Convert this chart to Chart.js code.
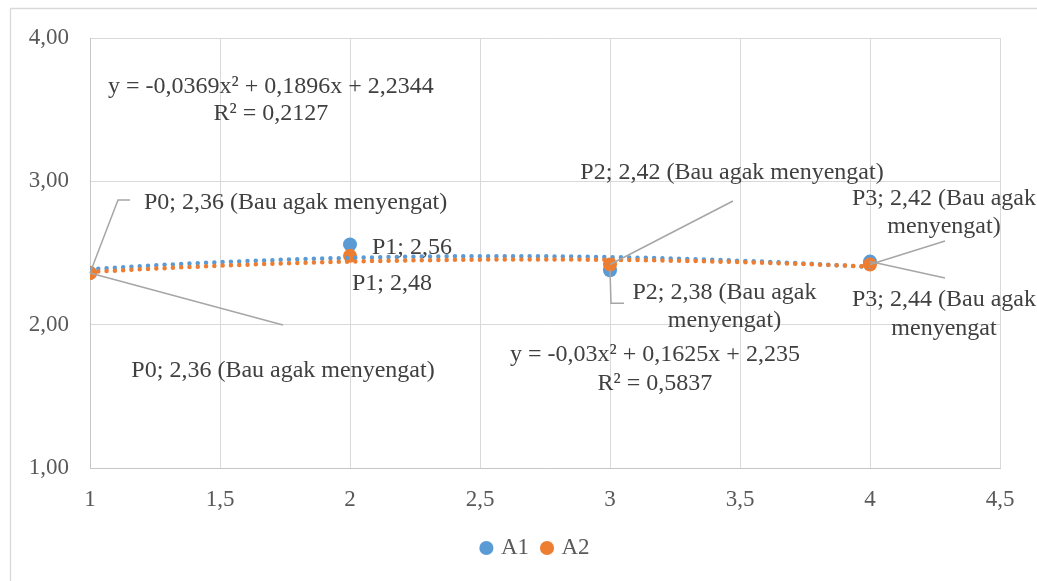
<!DOCTYPE html>
<html><head><meta charset="utf-8">
<script src="https://cdn.jsdelivr.net/npm/chart.js@4"></script>
<style>html,body{margin:0;padding:0;background:#fff}#wrap{width:1037px;height:581px;position:relative}canvas{display:block}</style>
</head><body><div id="wrap"><canvas id="c" width="1037" height="581"></canvas></div>
<script>
// ---- data ----
const xValues = [1, 2, 3, 4];
const pointNames = ['P0', 'P1', 'P2', 'P3'];
const seriesA1 = [2.36, 2.56, 2.38, 2.44];
const seriesA2 = [2.36, 2.48, 2.42, 2.42];
const trendCoefA1 = [-0.0369, 0.1896, 2.2344]; // quadratic trendline a, b, c (as printed)
const trendCoefA2 = [-0.03, 0.1625, 2.235];
const r2A1 = 0.2127;
const r2A2 = 0.5837;
const xTickLabels = ['1', '1,5', '2', '2,5', '3', '3,5', '4', '4,5'];
const yTickLabels = ['1,00', '2,00', '3,00', '4,00'];

const BLUE = '#5B9BD5', ORANGE = '#ED7D31', TXT = '#404040', TICK = '#595959';
const FONT = "'Liberation Serif', 'Times New Roman', serif";

const fmt = v => String(v).replace('.', ',');
function trendPoints(c) {
  const pts = [];
  for (let k = 0; k <= 60; k++) {
    const x = 1 + k * 0.05;
    pts.push({x, y: c[0] * x * x + c[1] * x + c[2]});
  }
  return pts;
}
function eqText(c) {
  const s = v => (v < 0 ? '- ' : '+ ') + fmt(Math.abs(v));
  return 'y = ' + fmt(c[0]) + 'x² ' + s(c[1]) + 'x ' + s(c[2]);
}

// ---- label annotations (offsets relative to the point, in px) ----
const pointLabels = [
  {ds: 0, i: 0, align: 'left', dx: 54, dy: [-72], lines: ['{L} (Bau agak menyengat)'], leader: [[28, -73], [40, -73]]},
  {ds: 0, i: 1, align: 'left', dx: 22, dy: [1.6], lines: ['{L}'], leader: null},
  {ds: 0, i: 2, align: 'center', dx: 114.5, dy: [20.8, 48.8], lines: ['{L} (Bau agak', 'menyengat)'], leader: [[1, 33], [14, 33]]},
  {ds: 0, i: 3, align: 'center', dx: 74, dy: [36.4, 65.4], lines: ['{L} (Bau agak', 'menyengat'], leader: [[75, 16.4]]},
  {ds: 1, i: 0, align: 'center', dx: 193, dy: [96], lines: ['{L} (Bau agak menyengat)'], leader: [[193, 52]]},
  {ds: 1, i: 1, align: 'left', dx: 2, dy: [26], lines: ['{L}'], leader: null},
  {ds: 1, i: 2, align: 'center', dx: 122, dy: [-93.5], lines: ['{L} (Bau agak menyengat)'], leader: [[123, -63.5]]},
  {ds: 1, i: 3, align: 'center', dx: 74, dy: [-67.5, -39.5], lines: ['{L} (Bau agak', 'menyengat)'], leader: [[75, -23.5]]}
];
const equationLabels = [
  {x: 1.696, y: [3.672, 3.484], lines: [eqText(trendCoefA1), 'R² = ' + fmt(r2A1)]},
  {x: 3.173, y: [1.802, 1.600], lines: [eqText(trendCoefA2), 'R² = ' + fmt(r2A2)]}
];

const annotPlugin = {
  id: 'annot',
  afterLayout(chart) {
    // centre the legend like the original (relative to the area right of the value labels)
    const lg = chart.legend;
    if (lg) { lg.left = 73; lg.width = lg.right - lg.left; }
  },
  beforeDraw(chart) {
    const ctx = chart.ctx;
    ctx.save();
    ctx.strokeStyle = '#d9d9d9';
    ctx.lineWidth = 1.3;
    ctx.beginPath();
    ctx.moveTo(10.5, 581); ctx.lineTo(10.5, 8.5); ctx.lineTo(1037, 8.5);
    ctx.stroke();
    ctx.restore();
  },
  afterDatasetsDraw(chart) {
    const ctx = chart.ctx;
    const series = [seriesA1, seriesA2];
    ctx.save();
    // leader lines
    ctx.strokeStyle = '#a6a6a6';
    ctx.lineWidth = 1.5;
    pointLabels.forEach(l => {
      if (!l.leader) return;
      const el = chart.getDatasetMeta(l.ds).data[l.i];
      ctx.beginPath();
      ctx.moveTo(el.x, el.y);
      l.leader.forEach(p => ctx.lineTo(el.x + p[0], el.y + p[1]));
      ctx.stroke();
    });
    // texts
    ctx.fillStyle = TXT;
    ctx.font = '24px ' + FONT;
    ctx.textBaseline = 'middle';
    pointLabels.forEach(l => {
      const el = chart.getDatasetMeta(l.ds).data[l.i];
      const head = pointNames[l.i] + '; ' + fmt(series[l.ds][l.i]);
      ctx.textAlign = l.align;
      l.lines.forEach((t, k) => {
        ctx.fillText(t.replace('{L}', head), el.x + l.dx, el.y + l.dy[k] + 2);
      });
    });
    const xs = chart.scales.x, ys = chart.scales.y;
    ctx.textAlign = 'center';
    equationLabels.forEach(e => {
      e.lines.forEach((t, k) => ctx.fillText(t, xs.getPixelForValue(e.x), ys.getPixelForValue(e.y[k]) + 2));
    });
    ctx.restore();
  }
};

new Chart(document.getElementById('c'), {
  type: 'scatter',
  data: {
    datasets: [
      {label: 'A1', data: xValues.map((x, i) => ({x, y: seriesA1[i]})), backgroundColor: BLUE, borderColor: BLUE, borderWidth: 0,
       pointRadius: 7, pointHoverRadius: 7, order: 3},
      {label: 'A2', data: xValues.map((x, i) => ({x, y: seriesA2[i]})), backgroundColor: ORANGE, borderColor: ORANGE, borderWidth: 0,
       pointRadius: 7, pointHoverRadius: 7, order: 2},
      {label: 'trendA1', data: trendPoints(trendCoefA1), showLine: true, borderColor: BLUE, backgroundColor: BLUE,
       borderWidth: 4.5, borderDash: [0, 8.3], borderCapStyle: 'round', pointRadius: 0, pointHoverRadius: 0, fill: false, order: 1},
      {label: 'trendA2', data: trendPoints(trendCoefA2), showLine: true, borderColor: ORANGE, backgroundColor: ORANGE,
       borderWidth: 4.5, borderDash: [0, 8.3], borderCapStyle: 'round', pointRadius: 0, pointHoverRadius: 0, fill: false, order: 0}
    ]
  },
  options: {
    responsive: false,
    animation: false,
    devicePixelRatio: 1,
    layout: {padding: {left: 10, right: 37, top: 38, bottom: 11.5}},
    scales: {
      x: {
        type: 'linear', min: 1, max: 4.5,
        afterFit: s => { s.height = 53.5; },
        ticks: {stepSize: 0.5, padding: 18, color: TICK, font: {family: FONT, size: 23}, maxRotation: 0,
                callback: (v, i) => xTickLabels[i]},
        grid: {color: '#d9d9d9', lineWidth: 1, drawTicks: false},
        border: {color: '#c6c6c6', width: 1}
      },
      y: {
        type: 'linear', min: 1, max: 4,
        afterFit: s => { s.width = 80; },
        ticks: {stepSize: 1, padding: 21, color: TICK, font: {family: FONT, size: 23},
                callback: (v, i) => yTickLabels[i]},
        grid: {color: '#d9d9d9', lineWidth: 1, drawTicks: false},
        border: {color: '#c6c6c6', width: 1}
      }
    },
    plugins: {
      tooltip: {enabled: false},
      legend: {
        position: 'bottom',
        labels: {
          usePointStyle: true, pointStyle: 'circle', boxWidth: 6, boxHeight: 10, padding: 15,
          color: TICK, font: {family: FONT, size: 23},
          filter: item => item.datasetIndex < 2,
          sort: (a, b) => a.datasetIndex - b.datasetIndex
        }
      }
    }
  },
  plugins: [annotPlugin]
});
</script></body></html>
